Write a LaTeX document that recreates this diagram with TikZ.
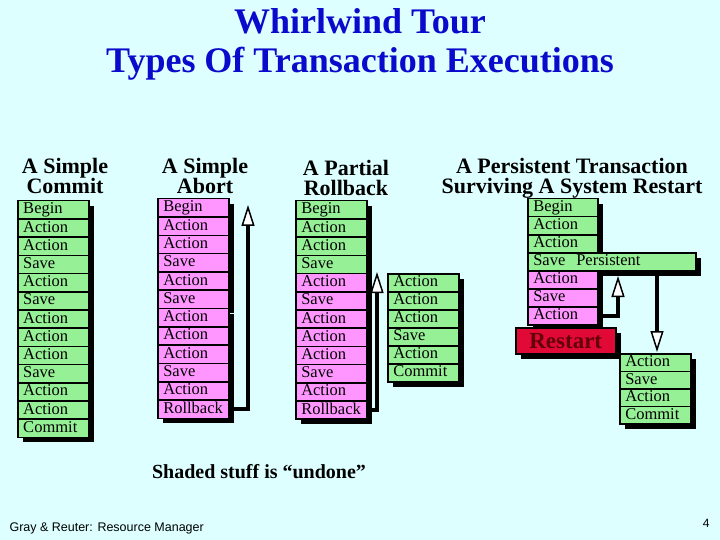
\documentclass[tikz,border=0pt]{standalone}
\usepackage{fontspec}
\setmainfont{Liberation Serif}
\newfontfamily\footfont{Liberation Sans}
\usetikzlibrary{arrows.meta,shadows}
\definecolor{BackClr}{RGB}{221,255,255}
\definecolor{TitleClr}{RGB}{10,10,205}
\definecolor{DoneClr}{RGB}{150,240,150}
\definecolor{UndoClr}{RGB}{255,150,255}
\definecolor{RestartClr}{RGB}{225,10,55}
\definecolor{RestartTxt}{RGB}{100,0,10}

\begin{document}
\begin{tikzpicture}[x=1pt,y=-1pt,
  cell/.style={draw,line width=1.5pt,anchor=north west,inner xsep=5.5pt,inner ysep=0pt,
    text width=#1,minimum height=18.2pt,text height=11pt,text depth=3pt,
    font=\fontsize{16.5}{16.5}\selectfont,
    drop shadow={shadow xshift=5pt,shadow yshift=-5pt,fill=black,opacity=1}},
  cell/.default=60pt,
  done/.style={cell,fill=DoneClr},
  undo/.style={cell,fill=UndoClr},
  title/.style={anchor=base,text=TitleClr,font=\bfseries\fontsize{36}{36}\selectfont},
  head/.style={align=center,font=\bfseries\fontsize{22}{20}\selectfont},
  flow/.style={line width=4pt,-{Triangle[fill=white,line width=1.5pt,length=21pt,width=13pt]}}]

\fill[BackClr] (0,0) rectangle (720,540);
\useasboundingbox (0,0) rectangle (720,540);

\node[title] (tt1) at (360,34) {Whirlwind Tour};
\node[title] (tt2) at (360,73) {Types Of Transaction Executions};

\node[head] (scH) at (65,176) {A Simple\\Commit};
\node[head] (saH) at (205,176) {A Simple\\Abort};
\node[head] (prH) at (346,178) {A Partial\\Rollback};
\node[head] (psH) at (572,178) {A Persistent Transaction\\Surviving A System Restart};

% simple commit
\foreach \txt [count=\i] in {Begin,Action,Action,Save,Action,Save,Action,Action,Action,Save,Action,Action,Commit}
  \node[done] (sc\i) at (17,{200+(\i-1)*18.2}) {\txt};

% simple abort
\foreach \txt [count=\i] in {Begin,Action,Action,Save,Action,Save,Action,Action,Action,Save,Action,Rollback}
  \node[undo] (sa\i) at (157,{198+(\i-1)*18.3}) {\txt};

% partial rollback
\foreach \txt/\clr [count=\i] in {Begin/DoneClr,Action/DoneClr,Action/DoneClr,Save/DoneClr,
    Action/UndoClr,Save/UndoClr,Action/UndoClr,Action/UndoClr,Action/UndoClr,Save/UndoClr,
    Action/UndoClr,Rollback/UndoClr}
  \node[cell,fill=\clr] (pr\i) at (295,{200+(\i-1)*18.2}) {\txt};
\foreach \txt [count=\i] in {Action,Action,Action,Save,Action,Commit}
  \node[done] (pc\i) at (387,{273+(\i-1)*18}) {\txt};

% persistent transaction
\foreach \txt/\clr/\rowwd [count=\i] in {Begin/DoneClr/59pt,Action/DoneClr/59pt,Action/DoneClr/59pt,
    Save\ \ Persistent/DoneClr/157pt,Action/UndoClr/59pt,Save/UndoClr/59pt,Action/UndoClr/59pt}
  \node[cell=\rowwd,fill=\clr,minimum height=18pt] (ps\i) at (527,{198+(\i-1)*18}) {\txt};
\node[draw,line width=1.5pt,fill=RestartClr,anchor=north west,minimum width=100pt,minimum height=26pt,
  text=RestartTxt,font=\bfseries\fontsize{23}{23}\selectfont,
  drop shadow={shadow xshift=5pt,shadow yshift=-5pt,fill=black,opacity=1}] (rs) at (515,327) {Restart};
\foreach \txt [count=\i] in {Action,Save,Action,Commit}
  \node[done,minimum height=17.5pt] (pa\i) at (619,{353+(\i-1)*17.5}) {\txt};

\coordinate (saTip) at (248,205);
\coordinate (prTip) at (377,272);
\coordinate (psTip) at (618,276);
\coordinate (rsTip) at (657,352);
\draw[flow] (sa12.east) -| (saTip);
\draw[flow] (pr12.east) -| (prTip);
\draw[flow] (ps7.east) -| (psTip);
\draw[flow] (ps4.south -| rsTip) -- (rsTip);

\node[anchor=base,font=\bfseries\fontsize{20}{20}\selectfont] (note) at (259,478) {Shaded stuff is “undone”};
\node[anchor=base west,font=\footfont\fontsize{12.5}{12.5}\selectfont] (foot) at (6,531) {Gray \& Reuter: Resource Manager};
\node[anchor=base east,font=\footfont\fontsize{12}{12}\selectfont] (pg) at (713,527) {4};

\end{tikzpicture}
\end{document}
